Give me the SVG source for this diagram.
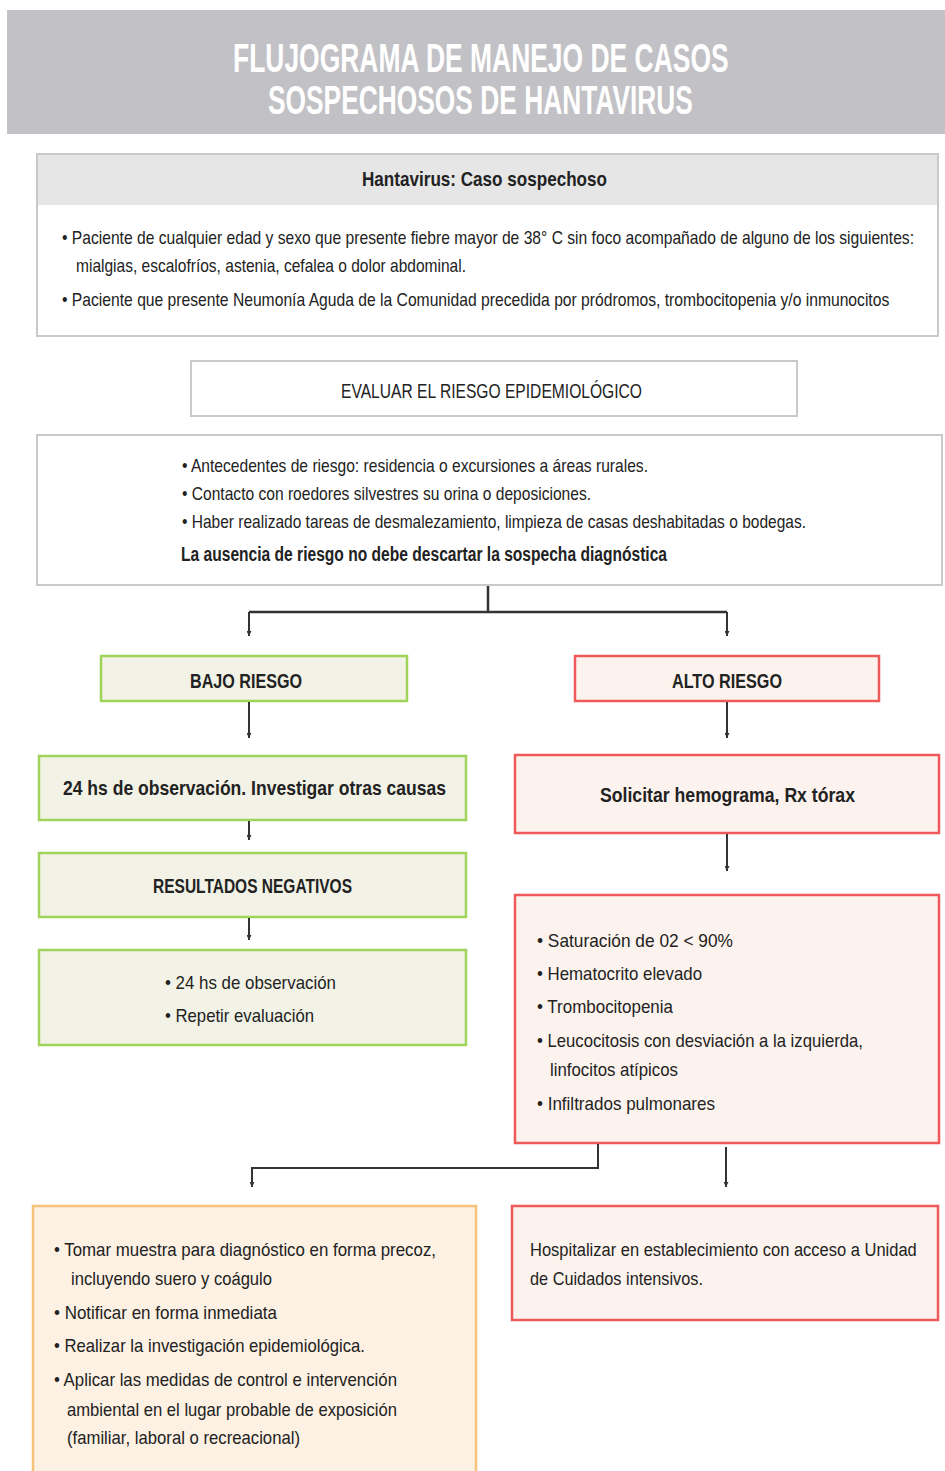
<svg xmlns="http://www.w3.org/2000/svg" width="945" height="1471" viewBox="0 0 945 1471">
<defs>
<style>
text{font-family:"Liberation Sans Narrow","Liberation Sans",Arial,sans-serif;fill:#222}
.t{font-size:40px;font-weight:bold;fill:#fff}
.b{font-size:21px;font-weight:bold}
.r{font-size:19px}
.gray{fill:#fff;stroke:#c9c9c9;stroke-width:2}
.green{fill:#f2f3e6;stroke:#9fd35a;stroke-width:2.5}
.red{fill:#fdf3ee;stroke:#ee5a5a;stroke-width:2.5}
.orange{fill:#fdf1e3;stroke:#f7c27a;stroke-width:2.5}
.c{fill:none;stroke:#333;stroke-width:2}
</style>
<marker id="ah" viewBox="0 0 6 6" refX="6" refY="3" markerWidth="5" markerHeight="5" orient="auto" markerUnits="userSpaceOnUse">
<path d="M0,0 L6,3 L0,6 z" fill="#333"/>
</marker>
</defs>
<rect width="945" height="1471" fill="#fff"/>

<g id="header">
<rect x="7" y="10" width="938" height="124" fill="#c2c2c6"/>
<text class="t" transform="translate(233,72) scale(0.7,1)" x="0" y="0" textLength="708" lengthAdjust="spacingAndGlyphs">FLUJOGRAMA DE MANEJO DE CASOS</text>
<text class="t" transform="translate(268,114) scale(0.7,1)" x="0" y="0" textLength="607" lengthAdjust="spacingAndGlyphs">SOSPECHOSOS DE HANTAVIRUS</text>
</g>

<g id="caso-sospechoso">
<rect class="gray" x="37" y="154" width="901" height="182"/>
<rect x="38" y="155" width="899" height="50" fill="#e6e6e6"/>
<text class="b" x="362" y="186" textLength="245" lengthAdjust="spacingAndGlyphs">Hantavirus: Caso sospechoso</text>
<text class="r" transform="translate(62,244) scale(0.75,1)" x="0" y="0" textLength="1136" lengthAdjust="spacingAndGlyphs">• Paciente de cualquier edad y sexo que presente fiebre mayor de 38° C sin foco acompañado de alguno de los siguientes:</text>
<text class="r" x="76" y="272" textLength="390" lengthAdjust="spacingAndGlyphs">mialgias, escalofríos, astenia, cefalea o dolor abdominal.</text>
<text class="r" transform="translate(62,306) scale(0.75,1)" x="0" y="0" textLength="1103" lengthAdjust="spacingAndGlyphs">• Paciente que presente Neumonía Aguda de la Comunidad precedida por pródromos, trombocitopenia y/o inmunocitos</text>
</g>

<g id="evaluar">
<rect class="gray" x="191" y="361" width="606" height="55"/>
<text class="r" x="341" y="398" textLength="301" lengthAdjust="spacingAndGlyphs" style="font-size:20px">EVALUAR EL RIESGO EPIDEMIOLÓGICO</text>
</g>

<g id="riesgo">
<rect class="gray" x="37" y="435" width="905" height="150"/>
<text class="r" x="182" y="472" textLength="466" lengthAdjust="spacingAndGlyphs">• Antecedentes de riesgo: residencia o excursiones a áreas rurales.</text>
<text class="r" x="182" y="500" textLength="409" lengthAdjust="spacingAndGlyphs">• Contacto con roedores silvestres su orina o deposiciones.</text>
<text class="r" x="182" y="528" textLength="624" lengthAdjust="spacingAndGlyphs">• Haber realizado tareas de desmalezamiento, limpieza de casas deshabitadas o bodegas.</text>
<text class="b" x="181" y="561" textLength="486" lengthAdjust="spacingAndGlyphs" style="font-size:20px">La ausencia de riesgo no debe descartar la sospecha diagnóstica</text>
</g>

<g id="bajo-riesgo">
<rect class="green" x="101" y="656" width="306" height="45"/>
<text class="b" x="190" y="688" textLength="112" lengthAdjust="spacingAndGlyphs">BAJO RIESGO</text>
</g>

<g id="alto-riesgo">
<rect class="red" x="575" y="656" width="304" height="45"/>
<text class="b" x="672" y="688" textLength="110" lengthAdjust="spacingAndGlyphs">ALTO RIESGO</text>
</g>

<g id="observacion">
<rect class="green" x="39" y="756" width="427" height="64"/>
<text class="b" x="63" y="795" textLength="383" lengthAdjust="spacingAndGlyphs">24 hs de observación. Investigar otras causas</text>
</g>

<g id="hemograma">
<rect class="red" x="515" y="755" width="424" height="78"/>
<text class="b" x="600" y="802" textLength="255" lengthAdjust="spacingAndGlyphs">Solicitar hemograma, Rx tórax</text>
</g>

<g id="negativos">
<rect class="green" x="39" y="853" width="427" height="64"/>
<text class="b" x="153" y="893" textLength="199" lengthAdjust="spacingAndGlyphs">RESULTADOS NEGATIVOS</text>
</g>

<g id="repetir">
<rect class="green" x="39" y="950" width="427" height="95"/>
<text class="r" x="165" y="989" textLength="171" lengthAdjust="spacingAndGlyphs">• 24 hs de observación</text>
<text class="r" x="165" y="1022" textLength="149" lengthAdjust="spacingAndGlyphs">• Repetir evaluación</text>
</g>

<g id="criterios">
<rect class="red" x="515" y="895" width="424" height="248"/>
<text class="r" x="537" y="947" textLength="196" lengthAdjust="spacingAndGlyphs">• Saturación de 02 &lt; 90%</text>
<text class="r" x="537" y="980" textLength="165" lengthAdjust="spacingAndGlyphs">• Hematocrito elevado</text>
<text class="r" x="537" y="1013" textLength="136" lengthAdjust="spacingAndGlyphs">• Trombocitopenia</text>
<text class="r" x="537" y="1047" textLength="326" lengthAdjust="spacingAndGlyphs">• Leucocitosis con desviación a la izquierda,</text>
<text class="r" x="550" y="1076" textLength="128" lengthAdjust="spacingAndGlyphs">linfocitos atípicos</text>
<text class="r" x="537" y="1110" textLength="178" lengthAdjust="spacingAndGlyphs">• Infiltrados pulmonares</text>
</g>

<g id="acciones">
<rect class="orange" x="33" y="1206" width="443" height="275"/>
<text class="r" x="54" y="1256" textLength="382" lengthAdjust="spacingAndGlyphs">• Tomar muestra para diagnóstico en forma precoz,</text>
<text class="r" x="71" y="1285" textLength="201" lengthAdjust="spacingAndGlyphs">incluyendo suero y coágulo</text>
<text class="r" x="54" y="1319" textLength="223" lengthAdjust="spacingAndGlyphs">• Notificar en forma inmediata</text>
<text class="r" x="54" y="1352" textLength="311" lengthAdjust="spacingAndGlyphs">• Realizar la investigación epidemiológica.</text>
<text class="r" x="54" y="1386" textLength="343" lengthAdjust="spacingAndGlyphs">• Aplicar las medidas de control e intervención</text>
<text class="r" x="67" y="1416" textLength="330" lengthAdjust="spacingAndGlyphs">ambiental en el lugar probable de exposición</text>
<text class="r" x="67" y="1444" textLength="233" lengthAdjust="spacingAndGlyphs">(familiar, laboral o recreacional)</text>
</g>

<g id="hospitalizar">
<rect class="red" x="512" y="1206" width="426" height="114"/>
<text class="r" transform="translate(530,1256) scale(0.85,1)" x="0" y="0" textLength="455" lengthAdjust="spacingAndGlyphs">Hospitalizar en establecimiento con acceso a Unidad</text>
<text class="r" x="530" y="1285" textLength="173" lengthAdjust="spacingAndGlyphs">de Cuidados intensivos.</text>
</g>

<g id="connectors">
<path class="c" d="M488,586 V612 M249,612 H727" style="stroke-width:2.5"/>
<path class="c" d="M249,612 V636" marker-end="url(#ah)"/>
<path class="c" d="M727,612 V636" marker-end="url(#ah)"/>
<path class="c" d="M249,702 V738" marker-end="url(#ah)"/>
<path class="c" d="M727,702 V738" marker-end="url(#ah)"/>
<path class="c" d="M249,821 V840" marker-end="url(#ah)"/>
<path class="c" d="M727,834 V871" marker-end="url(#ah)"/>
<path class="c" d="M249,918 V940" marker-end="url(#ah)"/>
<path class="c" d="M598,1144 V1168 H252 V1187" marker-end="url(#ah)"/>
<path class="c" d="M726,1147 V1187" marker-end="url(#ah)"/>
</g>
</svg>
